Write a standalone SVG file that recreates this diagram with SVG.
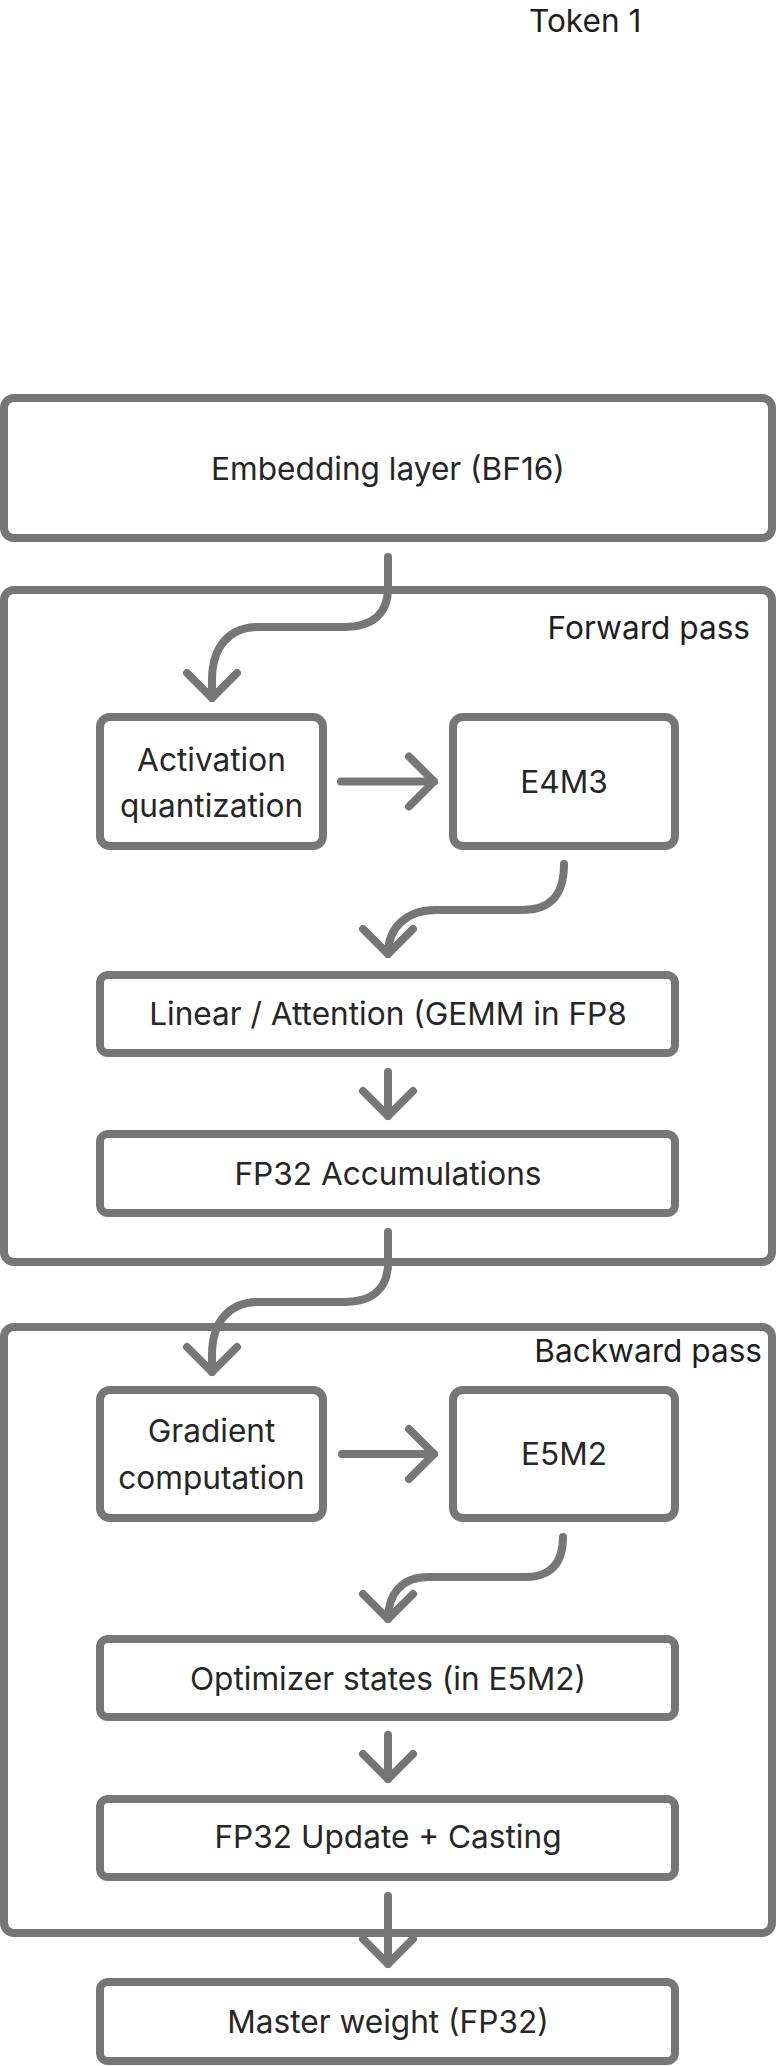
<svg xmlns="http://www.w3.org/2000/svg" width="776" height="2066" viewBox="0 0 776 2066">
<style>
.box{fill:#ffffff;stroke:#767676;stroke-width:8}
.grp{fill:none;stroke:#767676;stroke-width:8}
.con{fill:none;stroke:#767676;stroke-width:8;stroke-linecap:round;stroke-linejoin:round}
.t{font-family:Inter,"Liberation Sans",sans-serif;font-size:31.6px;fill:#262626;text-anchor:middle}
.tl{font-family:Inter,"Liberation Sans",sans-serif;font-size:31.6px;fill:#1e1e1e;text-anchor:end}
</style>
<rect width="776" height="2066" fill="#ffffff"/>
<text x="529" y="32" style="font-family:Inter,'Liberation Sans',sans-serif;font-size:31.6px;fill:#1e1e1e">Token 1</text>
<g id="forward-pass">
<rect class="grp" x="4" y="590" width="768" height="672" rx="10"/>
<text class="tl" x="750" y="639">Forward pass</text>
</g>
<g id="backward-pass">
<rect class="grp" x="4" y="1327" width="768" height="606" rx="10"/>
<text class="tl" x="762" y="1362">Backward pass</text>
</g>
<g id="connectors">
<path class="con" d="M388,557 L388,588 C388,614 372,627 344,627 L258,627 C230,627 212,646 212,680 L212,698"/>
<path class="con" d="M187,673 L212,698 L237,673"/>
<path class="con" d="M341,781.5 L434,781.5"/>
<path class="con" d="M409,756.5 L434,781.5 L409,806.5"/>
<path class="con" d="M564,864 C564,896 550,910 522,910 L436,910 C406,910 388,928 388,954"/>
<path class="con" d="M363,929 L388,954 L413,929"/>
<path class="con" d="M388,1072 L388,1116"/>
<path class="con" d="M363,1091 L388,1116 L413,1091"/>
<path class="con" d="M388,1232 L388,1263 C388,1289 372,1302 344,1302 L258,1302 C230,1302 212,1321 212,1355 L212,1372"/>
<path class="con" d="M187,1347 L212,1372 L237,1347"/>
<path class="con" d="M342,1454 L434,1454"/>
<path class="con" d="M409,1429 L434,1454 L409,1479"/>
<path class="con" d="M563,1537 C563,1564 550,1577 526,1577 L428,1577 C402,1577 388,1594 388,1619"/>
<path class="con" d="M363,1594 L388,1619 L413,1594"/>
<path class="con" d="M388,1735 L388,1779"/>
<path class="con" d="M363,1754 L388,1779 L413,1754"/>
<path class="con" d="M388,1896 L388,1964"/>
<path class="con" d="M363,1939 L388,1964 L413,1939"/>
</g>
<g id="embedding">
<rect class="box" x="4" y="398" width="768" height="140" rx="10"/>
<text class="t" x="388" y="480">Embedding layer (BF16)</text>
</g>
<g id="activation-quantization">
<rect class="box" x="100" y="717" width="223" height="129" rx="10"/>
<text class="t" x="211.5" y="771">Activation</text>
<text class="t" x="211.5" y="817">quantization</text>
</g>
<g id="e4m3">
<rect class="box" x="453" y="717" width="222" height="129" rx="10"/>
<text class="t" x="564" y="793">E4M3</text>
</g>
<g id="linear-attention">
<rect class="box" x="100" y="975" width="575" height="78" rx="8"/>
<text class="t" x="388" y="1025">Linear / Attention (GEMM in FP8</text>
</g>
<g id="fp32-accumulations">
<rect class="box" x="100" y="1134" width="575" height="79" rx="8"/>
<text class="t" x="388" y="1185">FP32 Accumulations</text>
</g>
<g id="gradient-computation">
<rect class="box" x="100" y="1390" width="223" height="128" rx="10"/>
<text class="t" x="211.5" y="1442">Gradient</text>
<text class="t" x="211.5" y="1489">computation</text>
</g>
<g id="e5m2">
<rect class="box" x="453" y="1390" width="222" height="128" rx="10"/>
<text class="t" x="564" y="1465">E5M2</text>
</g>
<g id="optimizer-states">
<rect class="box" x="100" y="1639" width="575" height="78" rx="8"/>
<text class="t" x="388" y="1690">Optimizer states (in E5M2)</text>
</g>
<g id="fp32-update">
<rect class="box" x="100" y="1799" width="575" height="78" rx="8"/>
<text class="t" x="388" y="1848">FP32 Update + Casting</text>
</g>
<g id="master-weight">
<rect class="box" x="100" y="1982" width="575" height="79" rx="8"/>
<text class="t" x="388" y="2033">Master weight (FP32)</text>
</g>
</svg>
